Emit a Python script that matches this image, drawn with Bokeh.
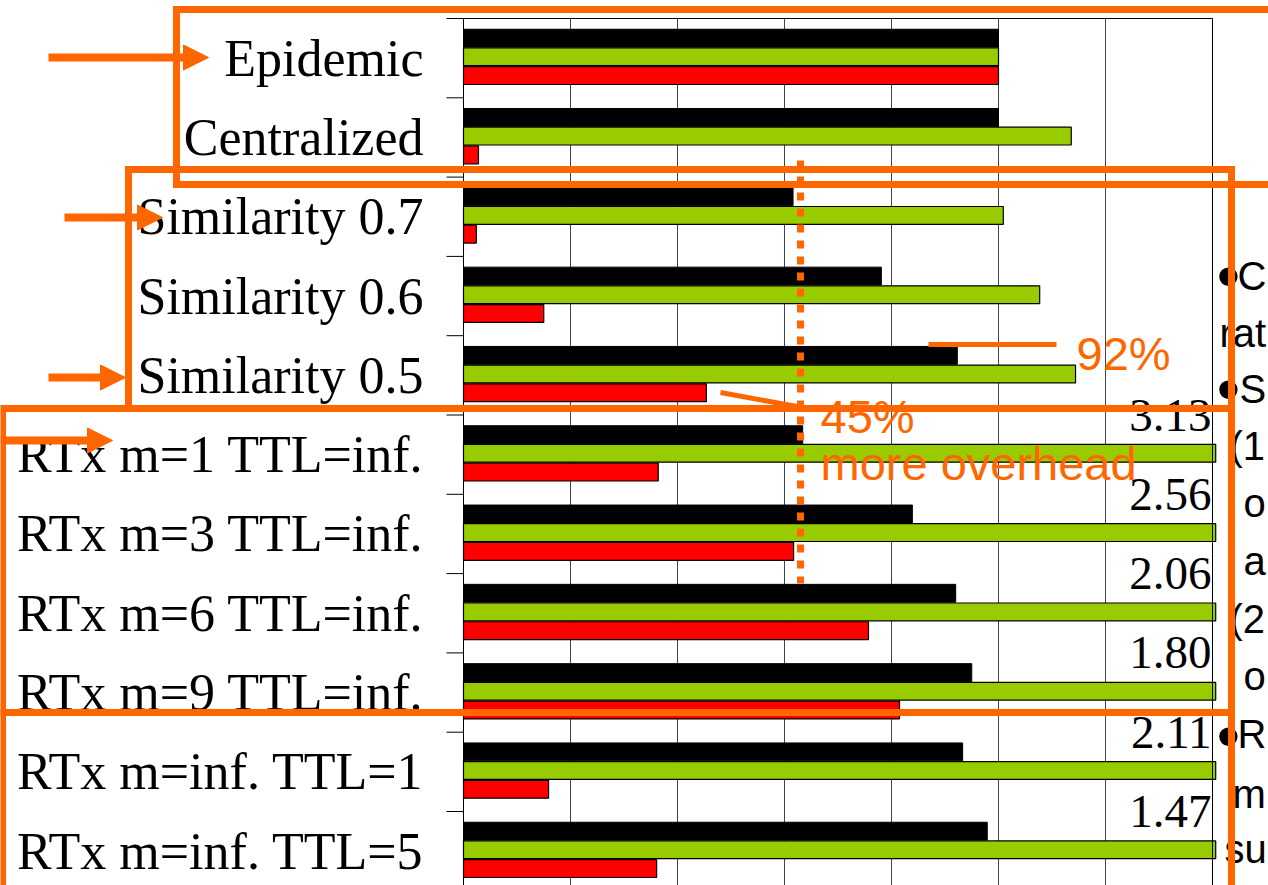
import numpy as np
from bokeh.plotting import figure
from bokeh.models import ColumnDataSource, Range1d, Arrow, NormalHead
from bokeh.core.properties import value
from bokeh.embed import file_html
from bokeh.resources import INLINE

# ---------------- data ----------------
categories = ["Epidemic", "Centralized", "Similarity 0.7", "Similarity 0.6", "Similarity 0.5",
              "RTx m=1 TTL=inf.", "RTx m=3 TTL=inf.", "RTx m=6 TTL=inf.", "RTx m=9 TTL=inf.",
              "RTx m=inf. TTL=1", "RTx m=inf. TTL=5"]
black_vals = [1.00, 1.00, 0.616, 0.781, 0.923, 0.634, 0.839, 0.920, 0.950, 0.933, 0.979]
green_vals = [1.00, 1.136, 1.009, 1.077, 1.144, 3.13, 2.56, 2.06, 1.80, 2.11, 1.47]
red_vals = [1.00, 0.028, 0.024, 0.150, 0.454, 0.364, 0.617, 0.757, 0.815, 0.159, 0.361]
x_ticks = [0.0, 0.2, 0.4, 0.6, 0.8, 1.0, 1.2, 1.4]

# ---------------- layout constants ----------------
W, H = 1268, 885
PX_LEFT, PX_RIGHT, PX_TOP = 463, 1212, 18
CAT_PX = 79.3
XMAX = x_ticks[-1]
XSCALE = (PX_RIGHT - PX_LEFT) / XMAX

ORANGE = "#FF6600"
GREEN = "#99CC00"
RED = "#FF0000"


def dx(px):
    return (px - PX_LEFT) / XSCALE


def dy(py):
    return (py - PX_TOP) / CAT_PX


n = len(categories)
centers = np.arange(n) + 0.5
BAR_H = 0.225

# the frame covers the whole page so the slide overlay can be drawn everywhere
p = figure(width=W, height=H, output_backend="svg", toolbar_location=None,
           x_range=Range1d(dx(0), dx(W)), y_range=Range1d(dy(H), dy(0)),
           x_axis_location=None, y_axis_location=None,
           min_border_left=0, min_border_right=0, min_border_top=0, min_border_bottom=0)
p.background_fill_color = "white"
p.border_fill_color = "white"
p.outline_line_color = None
p.grid.visible = False

# vertical grid lines every 0.2
p.segment(x0=x_ticks, y0=[0] * len(x_ticks), x1=x_ticks, y1=[n] * len(x_ticks),
          line_color="#444444", line_width=1)

src = ColumnDataSource(dict(
    yb=centers - 0.252, yg=centers - 0.017, yr=centers + 0.220,
    black=black_vals, green=np.minimum(green_vals, XMAX + 0.006), red=red_vals))

p.hbar(y="yb", left=0, right="black", height=BAR_H, source=src,
       fill_color="black", line_color="black", line_width=1)
p.hbar(y="yg", left=0, right="green", height=BAR_H, source=src,
       fill_color=GREEN, line_color="black", line_width=1.2)
p.hbar(y="yr", left=0, right="red", height=BAR_H, source=src,
       fill_color=RED, line_color="black", line_width=1.2)

# plot area border, category axis line and boundary ticks
p.quad(left=[0], right=[XMAX], top=[0], bottom=[n], fill_color=None,
       line_color="black", line_width=1)
tick_len = 17 / XSCALE
bounds = list(np.arange(n + 1))
p.segment(x0=[-tick_len] * len(bounds), y0=bounds, x1=[0] * len(bounds), y1=bounds,
          line_color="black", line_width=1)

# category labels
p.text(x=[-40 / XSCALE] * n, y=list(centers), text=categories, text_align="right",
       text_baseline="middle", text_font=value("Liberation Serif"), text_font_size="52px",
       text_color="black")

# values beyond the axis end
over = [i for i, v in enumerate(green_vals) if v > XMAX]
p.text(x=[XMAX - 0.002] * len(over), y=[float(i) for i in over],
       text=["%.2f" % green_vals[i] for i in over], text_align="right", text_baseline="middle",
       text_font=value("Liberation Serif"), text_font_size="47px", text_color="black")

# ---------------- slide overlay ----------------
def txt(items, size, color, align="left", base_shift=0.36):
    """items: (text, left px, baseline px); drawn with a middle baseline."""
    p.text(x=[dx(a) for _, a, _ in items], y=[dy(b - base_shift * size) for _, _, b in items],
           text=[t for t, _, _ in items], text_align=align, text_baseline="middle",
           text_font=value("Liberation Sans"), text_font_size="%dpx" % size, text_color=color)


# right-hand slide text (cut off in the original)
txt([("C", 1237, 290), ("rat", 1219, 347), ("S", 1239, 403), ("(1", 1229, 460),
     ("o", 1243, 517), ("a", 1243, 575), ("(2", 1229, 633), ("o", 1243, 690),
     ("R", 1237, 748), ("m", 1232, 808), ("su", 1224, 863)], 40, "black")
txt([("\u2022", 1228, 274), ("\u2022", 1228, 387), ("\u2022", 1228, 734)], 68, "black",
    align="center", base_shift=0.0)

# callout texts
txt([("92%", 1076, 370), ("45%", 820, 433), ("more overhead", 820, 480)], 47, ORANGE)

# dotted reference line and callout leaders
p.line(x=[dx(800), dx(800)], y=[dy(160), dy(583)], line_color=ORANGE, line_width=7,
       line_dash="8 8", line_cap="butt")
p.multi_line(xs=[[dx(928), dx(1056)], [dx(720), dx(802)]],
             ys=[[dy(344), dy(344)], [dy(392), dy(407)]],
             line_color=ORANGE, line_width=5)

# highlight boxes
box_xs = [[1290, 176, 176, 1290], [1231, 1231, 128, 128, 1231],
          [2, 2, 1231], [2, 1231]]
box_ys = [[9, 9, 184, 184], [900, 169, 169, 408, 408],
          [900, 408, 408], [712, 712]]
p.multi_line(xs=[[dx(v) for v in r] for r in box_xs], ys=[[dy(v) for v in r] for r in box_ys],
             line_color=ORANGE, line_width=7, line_join="miter", line_cap="square")

# arrows on the left
for x0, x1, y in [(48, 208, 57), (64, 162, 217), (48, 125, 377), (0, 112, 440)]:
    p.add_layout(Arrow(end=NormalHead(size=25, fill_color=ORANGE, line_color=ORANGE, line_width=1),
                       x_start=dx(x0), y_start=dy(y), x_end=dx(x1), y_end=dy(y),
                       line_color=ORANGE, line_width=8))

open("out.html", "w").write(file_html(p, INLINE))
